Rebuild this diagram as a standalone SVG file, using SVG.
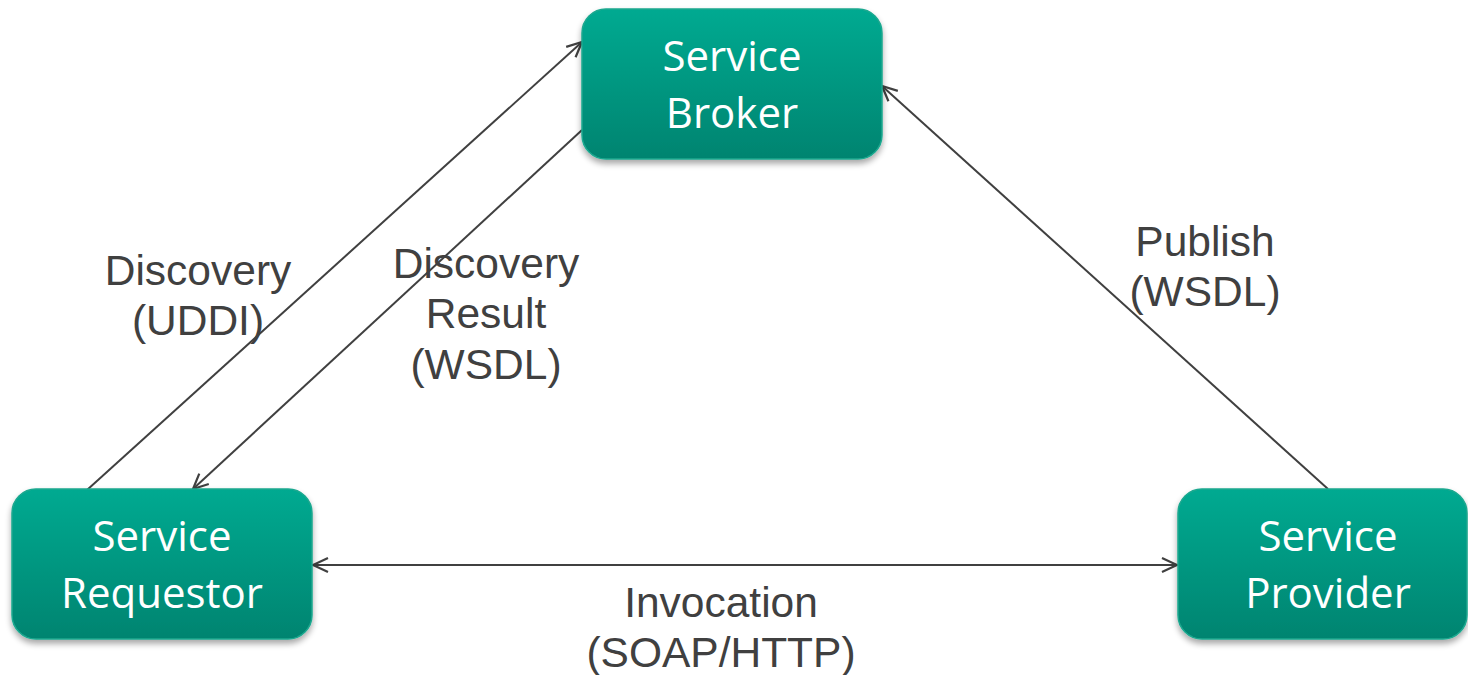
<svg xmlns="http://www.w3.org/2000/svg" width="1468" height="675" viewBox="0 0 1468 675">
<defs>
<linearGradient id="g" x1="0" y1="0" x2="0" y2="1">
<stop offset="0" stop-color="#00AA91"/>
<stop offset="1" stop-color="#008470"/>
</linearGradient>
<filter id="sh" x="-10%" y="-10%" width="120%" height="130%">
<feGaussianBlur in="SourceAlpha" stdDeviation="3"/>
<feOffset dy="4"/>
<feComponentTransfer><feFuncA type="linear" slope="0.35"/></feComponentTransfer>
<feMerge><feMergeNode/><feMergeNode in="SourceGraphic"/></feMerge>
</filter>
<marker id="ah" viewBox="0 0 20 20" refX="18" refY="10" markerWidth="20" markerHeight="20" markerUnits="userSpaceOnUse" orient="auto-start-reverse">
<path d="M3,3 L18,10 L3,17" fill="none" stroke="#404040" stroke-width="2.2"/>
</marker>
</defs>
<style>
.box{fill:url(#g);stroke:#1aa88f;stroke-width:1.5;filter:url(#sh)}
.nt{font-family:"Open Sans","Noto Sans",sans-serif;font-size:42px;fill:#ffffff;text-anchor:middle}
.lb{font-family:"Liberation Sans",Arial,sans-serif;font-size:42.5px;fill:#404040;text-anchor:middle}
.cn{fill:none;stroke:#404040;stroke-width:2}
</style>
<rect width="1468" height="675" fill="#ffffff"/>
<g id="connectors">
<line class="cn" x1="87" y1="490" x2="582" y2="42" marker-end="url(#ah)"/>
<line class="cn" x1="582" y1="130" x2="193" y2="489" marker-end="url(#ah)"/>
<line class="cn" x1="1328" y1="489" x2="882" y2="86" marker-end="url(#ah)"/>
<line class="cn" x1="313" y1="565" x2="1177" y2="565" marker-start="url(#ah)" marker-end="url(#ah)"/>
<text class="lb" x="198" y="285">Discovery</text>
<text class="lb" x="198" y="335">(UDDI)</text>
<text class="lb" x="486" y="278">Discovery</text>
<text class="lb" x="486" y="328">Result</text>
<text class="lb" x="486" y="379">(WSDL)</text>
<text class="lb" x="1205" y="256">Publish</text>
<text class="lb" x="1205" y="306">(WSDL)</text>
<text class="lb" x="721" y="617">Invocation</text>
<text class="lb" x="721" y="667">(SOAP/HTTP)</text>
</g>
<g id="broker">
<rect class="box" x="582" y="9" width="300" height="150" rx="24"/>
<text class="nt" x="732" y="71">Service</text>
<text class="nt" x="732" y="128">Broker</text>
</g>
<g id="requestor">
<rect class="box" x="12" y="489" width="300" height="150" rx="24"/>
<text class="nt" x="162" y="551">Service</text>
<text class="nt" x="162" y="608">Requestor</text>
</g>
<g id="provider">
<rect class="box" x="1178" y="489" width="289" height="150" rx="24"/>
<text class="nt" x="1328" y="551">Service</text>
<text class="nt" x="1328" y="608">Provider</text>
</g>
</svg>
